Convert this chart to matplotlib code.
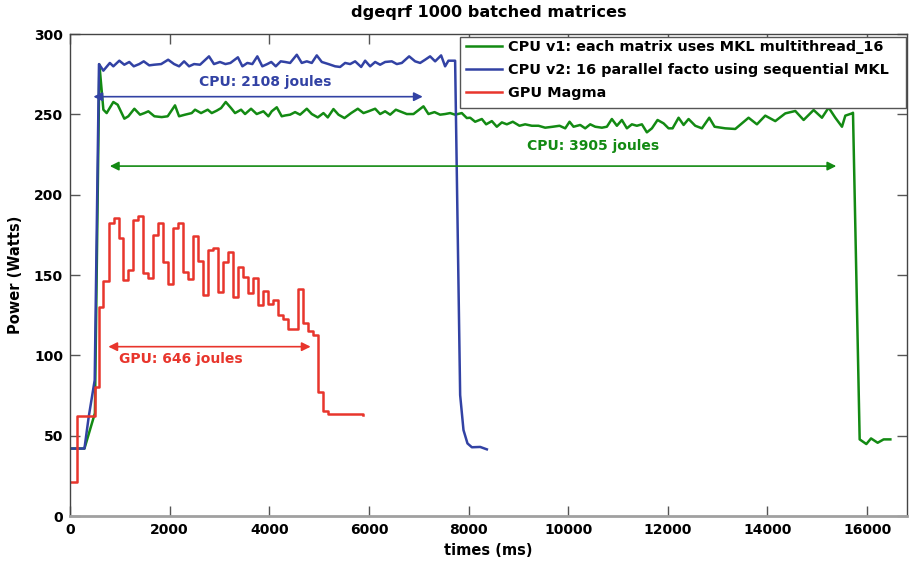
import matplotlib.pyplot as plt
from matplotlib.patches import Rectangle
import numpy as np

# GPU Magma (sensor steps, ~100 ms)
gpu_t = [0, 140, 500, 580, 670, 790, 885, 977, 1071, 1171, 1272, 1372, 1472,
         1573, 1673, 1773, 1874, 1974, 2075, 2175, 2275, 2376, 2476, 2576,
         2677, 2777, 2877, 2978, 3078, 3179, 3279, 3379, 3480, 3580, 3680,
         3780, 3880, 3980, 4080, 4180, 4280, 4380, 4480, 4580, 4680, 4780,
         4880, 4980, 5080, 5180, 5890]
gpu_w = [21, 62, 80, 130, 146, 182.5, 185.3, 172.8, 146.9, 153, 184.2, 186.7,
         151.4, 147.9, 174.9, 182.5, 158.3, 144.4, 179, 182.2, 152, 147.3,
         174.3, 158.7, 137.5, 165.6, 166.6, 139.6, 158.3, 164.5, 136.5, 155.2,
         148.6, 139.0, 147.9, 131.3, 140.2, 131.7, 134.4, 125.1, 122.4, 116.2,
         116.2, 141.3, 119.9, 115.3, 112.5, 77.4, 65.5, 63.3, 63]

# CPU v2: 16 parallel facto using sequential MKL
cpu2_t = [0, 290, 375, 496, 582, 670, 800, 870, 990, 1090, 1190, 1280, 1390,
          1480, 1590, 1690, 1830, 1970, 2090, 2190, 2290, 2390, 2490, 2610,
          2790, 2890, 3010, 3120, 3220, 3370, 3460, 3560, 3660, 3760, 3860,
          3960, 4040, 4130, 4230, 4317, 4418, 4552, 4652, 4753, 4853, 4953,
          5054, 5188, 5322, 5422, 5522, 5623, 5723, 5844, 5924, 6024, 6125,
          6225, 6325, 6459, 6560, 6660, 6807, 6927, 7028, 7128, 7228, 7329,
          7449, 7529, 7596, 7730, 7831, 7898, 7978, 8066, 8233, 8367]
cpu2_w = [42, 42, 61.6, 84.6, 281.3, 277.2, 282.0, 279.9, 283.4, 280.9, 282.6,
          279.9, 281.3, 283.0, 280.5, 280.9, 281.3, 284.0, 281.3, 279.9, 283.0,
          279.9, 281.3, 280.9, 286.1, 281.3, 282.6, 281.3, 282.0, 285.5, 279.9,
          282.0, 281.3, 286.1, 279.9, 281.3, 282.6, 279.9, 283.0, 282.6, 282.0,
          287.1, 282.0, 283.0, 282.0, 286.7, 282.6, 281.3, 279.9, 279.5, 282.0,
          281.3, 283.0, 279.5, 283.4, 279.9, 282.6, 280.9, 282.6, 283.0, 281.3,
          282.0, 286.1, 283.0, 282.0, 284.0, 286.1, 283.0, 286.7, 279.9, 283.4,
          283.4, 75.3, 53.5, 45.2, 42.8, 43.0, 41.5]

# CPU v1: each matrix uses MKL multithread_16
cpu1_t = [0, 290, 500, 590, 670, 736, 870, 957, 1091, 1171, 1292, 1406, 1493,
          1573, 1694, 1841, 1961, 2108, 2189, 2309, 2443, 2510, 2630, 2764,
          2845, 2945, 3032, 3126, 3233, 3313, 3434, 3514, 3634, 3748, 3882,
          3982, 4049, 4150, 4250, 4317, 4418, 4518, 4618, 4753, 4853, 4973,
          5087, 5174, 5288, 5389, 5509, 5643, 5777, 5891, 5991, 6125, 6225,
          6325, 6426, 6540, 6660, 6760, 6894, 7095, 7195, 7316, 7429, 7529,
          7630, 7730, 7864, 7965, 8032, 8132, 8266, 8353, 8467, 8567, 8668,
          8768, 8888, 9022, 9136, 9270, 9404, 9538, 9692, 9826, 9940, 10027,
          10107, 10241, 10341, 10442, 10542, 10676, 10776, 10876, 10977, 11077,
          11178, 11278, 11378, 11479, 11579, 11680, 11793, 11914, 12014, 12095,
          12215, 12316, 12416, 12550, 12684, 12831, 12938, 13152, 13353, 13620,
          13788, 13955, 14156, 14357, 14558, 14725, 14926, 15093, 15227, 15361,
          15495, 15562, 15696, 15716, 15850, 15984, 16078, 16211, 16331, 16466]
cpu1_w = [42, 42, 64, 281, 252.9, 250.8, 257.7, 256.0, 247.3, 248.8, 253.5,
          249.8, 250.8, 251.9, 248.8, 248.3, 248.8, 255.6, 248.8, 249.8, 250.8,
          252.9, 250.8, 252.9, 250.8, 252.3, 253.9, 257.7, 253.9, 250.8, 252.9,
          250.2, 253.5, 250.2, 251.9, 248.8, 251.9, 254.4, 248.8, 249.3, 249.8,
          251.4, 249.8, 253.5, 250.2, 248.1, 250.8, 248.1, 253.3, 249.8, 247.7,
          250.8, 253.5, 250.8, 251.9, 253.5, 250.2, 251.9, 249.8, 252.9, 251.4,
          250.2, 250.2, 255.0, 250.2, 251.4, 249.8, 250.2, 250.8, 249.8, 250.8,
          247.7, 247.9, 245.4, 247.1, 243.8, 245.8, 242.3, 245.0, 243.8, 245.4,
          242.9, 243.8, 242.9, 242.9, 241.7, 242.3, 242.9, 241.3, 245.4, 242.3,
          243.4, 241.3, 243.8, 242.3, 241.7, 242.3, 247.1, 242.9, 246.5, 241.3,
          243.8, 242.9, 243.8, 238.8, 241.3, 246.5, 244.4, 241.3, 241.3, 247.9,
          243.4, 247.1, 242.9, 241.3, 247.9, 242.3, 241.3, 240.9, 247.9, 243.8,
          249.2, 245.8, 250.6, 252.1, 246.5, 252.7, 247.9, 254.2, 247.9, 242.3,
          249.2, 250.6, 251.0, 47.7, 44.8, 48.3, 45.6, 47.7, 47.7]

labels = ["CPU v1: each matrix uses MKL multithread_16",
          "CPU v2: 16 parallel facto using sequential MKL",
          "GPU Magma"]

# energy annotations: (text, start, end, arrow y, text x, text y)
energy = [("CPU: 2108 joules", 470, 7080, 261, 3920, 270),
          ("CPU: 3905 joules", 800, 15380, 217.8, 10500, 230),
          ("GPU: 646 joules", 770, 4830, 105.4, 2220, 98)]

green = "#138a13"
blue = "#3242a4"
red = "#e8352c"

plt.rcParams["font.family"] = "DejaVu Sans"
plt.rcParams["font.weight"] = "bold"

W, H = 909, 568
fig = plt.figure(figsize=(W / 100, H / 100), dpi=100)
ax = fig.add_axes([0.077, 0.0915, 0.9208, 0.8486])

ax.plot(cpu1_t, cpu1_w, color=green, lw=1.8, label=labels[0])
ax.plot(cpu2_t, cpu2_w, color=blue, lw=1.8, label=labels[1])
ax.plot(gpu_t, gpu_w, color=red, lw=1.8, drawstyle="steps-post", label=labels[2])

# double arrows with the energy measured
for (txt, x0, x1, ya, xt, yt), col in zip(energy, [blue, green, red]):
    ax.annotate("", xy=(x1, ya), xytext=(x0, ya),
                arrowprops=dict(arrowstyle="<|-|>", color=col, lw=1.2,
                                mutation_scale=13, shrinkA=0, shrinkB=0))
    ax.text(xt, yt, txt, color=col, fontsize=10, fontweight="bold",
            ha="center", va="center")

ax.set_xlim(0, 16800)
ax.set_ylim(0, 300)
ax.set_xticks(np.arange(0, 16001, 2000))
ax.set_yticks(np.arange(0, 301, 50))
ax.tick_params(direction="in", length=7, width=1, color="#555555",
               top=True, right=True, labelsize=10, pad=5)
for s in ax.spines.values():
    s.set_color("#444444")
    s.set_linewidth(1)
ax.spines["bottom"].set_color("#a0a0a0")
ax.spines["bottom"].set_linewidth(2)

ax.set_xlabel("times (ms)", fontsize=10.5, fontweight="bold", labelpad=4)
ax.set_ylabel("Power (Watts)", fontsize=10.5, fontweight="bold", labelpad=8)
ax.set_title("dgeqrf 1000 batched matrices", fontsize=11.6, fontweight="bold", pad=12)

# legend box drawn by hand, MATLAB style (wider than the text)
box = Rectangle((460 / W, 1 - 108 / H), 446 / W, 71 / H,
                transform=fig.transFigure, facecolor="white",
                edgecolor="#555555", lw=1, zorder=4, clip_on=False)
ax.add_patch(box)
leg = ax.legend(loc="upper left", bbox_to_anchor=(463 / W, 1 - 37 / H),
                bbox_transform=fig.transFigure, fontsize=10.35, frameon=False,
                borderaxespad=0, borderpad=0.2, handlelength=2.5,
                handletextpad=0.45, labelspacing=0.64)
leg.set_zorder(5)
for t in leg.get_texts():
    t.set_fontweight("bold")

fig.savefig("out.png", dpi=100)
